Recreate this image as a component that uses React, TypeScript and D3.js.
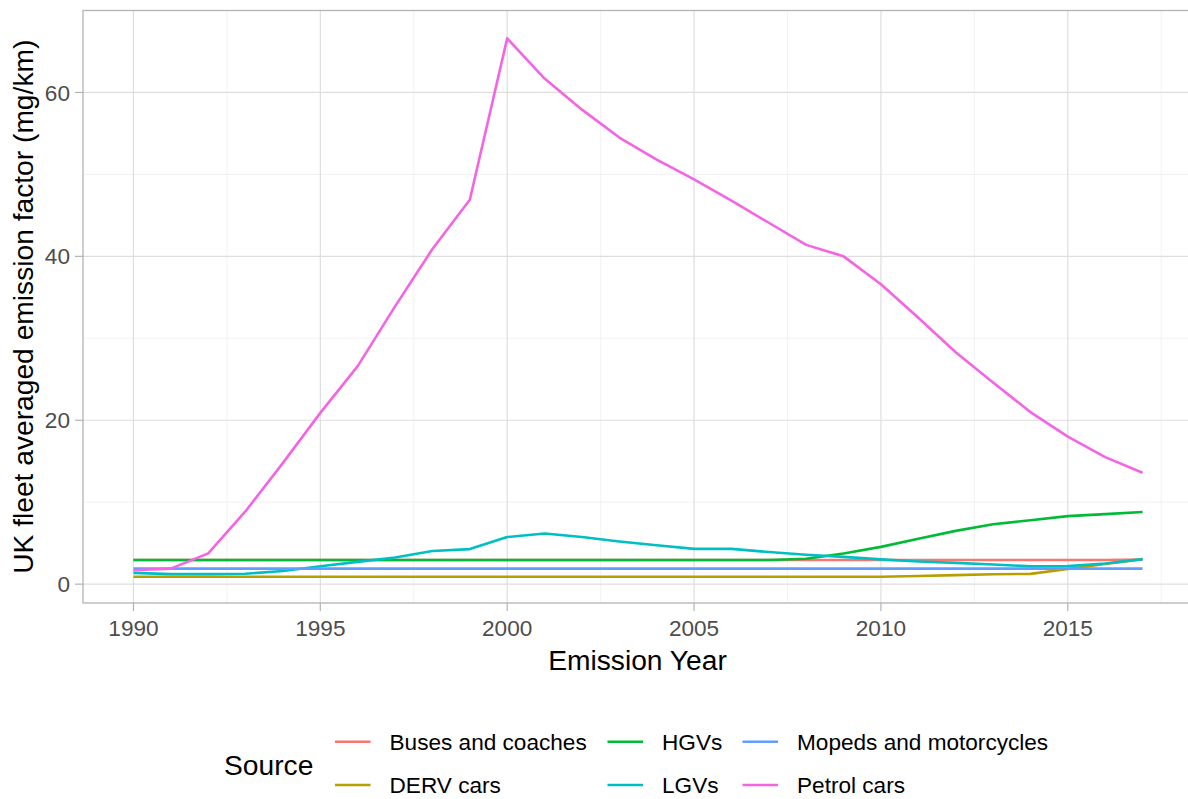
import { useRef, useEffect } from "react";
import * as d3 from "d3";

const years = [
  1990, 1991, 1992, 1993, 1994, 1995, 1996, 1997, 1998, 1999, 2000, 2001, 2002, 2003,
  2004, 2005, 2006, 2007, 2008, 2009, 2010, 2011, 2012, 2013, 2014, 2015, 2016, 2017,
];

const sources = ["Buses and coaches", "DERV cars", "HGVs", "LGVs", "Mopeds and motorcycles", "Petrol cars"];
const colors = ["#F8766D", "#B79F00", "#00BA38", "#00BFC4", "#619CFF", "#F564E3"];

const buses = [
  2.95, 2.95, 2.95, 2.95, 2.95, 2.95, 2.95, 2.95, 2.95, 2.95, 2.95, 2.95, 2.95, 2.95,
  2.95, 2.95, 2.95, 2.95, 2.95, 2.95, 2.95, 2.95, 2.95, 2.95, 2.95, 2.95, 2.95, 3.0,
];
const derv = [
  0.9, 0.9, 0.9, 0.9, 0.9, 0.9, 0.9, 0.9, 0.9, 0.9, 0.9, 0.9, 0.9, 0.9,
  0.9, 0.9, 0.9, 0.9, 0.9, 0.9, 0.9, 1.0, 1.1, 1.2, 1.25, 1.85, 2.45, 3.05,
];
const hgvs = [
  2.95, 2.95, 2.95, 2.95, 2.95, 2.95, 2.95, 2.95, 2.95, 2.95, 2.95, 2.95, 2.95, 2.95,
  2.95, 2.95, 2.95, 2.95, 3.1, 3.75, 4.55, 5.55, 6.5, 7.3, 7.8, 8.3, 8.55, 8.8,
];
const lgvs = [
  1.38, 1.22, 1.22, 1.27, 1.6, 2.18, 2.72, 3.25, 4.05, 4.28, 5.75, 6.18, 5.75, 5.2,
  4.75, 4.3, 4.3, 3.92, 3.58, 3.33, 3.02, 2.76, 2.6, 2.4, 2.17, 2.2, 2.52, 3.05,
];
const mopeds = [
  1.9, 1.9, 1.9, 1.9, 1.9, 1.9, 1.9, 1.9, 1.9, 1.9, 1.9, 1.9, 1.9, 1.9,
  1.9, 1.9, 1.9, 1.9, 1.9, 1.9, 1.9, 1.9, 1.9, 1.9, 1.9, 1.9, 1.9, 1.9,
];
const petrol = [
  1.7, 1.9, 3.75, 8.9, 14.8, 20.9, 26.6, 33.9, 40.9, 46.9, 66.6, 61.7, 57.9, 54.5,
  51.8, 49.4, 46.8, 44.1, 41.4, 40.0, 36.6, 32.5, 28.3, 24.6, 21.0, 18.0, 15.5, 13.6,
];

const xTicks = [1990, 1995, 2000, 2005, 2010, 2015];
const xMinor = [1992.5, 1997.5, 2002.5, 2007.5, 2012.5, 2017.5];
const yTicks = [0, 20, 40, 60];
const yMinor = [10, 30, 50];

const FONT = "'Liberation Sans', Arial, sans-serif";

export default function App() {
  const svgRef = useRef<SVGSVGElement>(null);

  useEffect(() => {
    if (!svgRef.current) return;
    const svg = d3.select(svgRef.current);
    svg.selectAll("*").remove();

    const W = 1188;
    const H = 799;
    const panel = { left: 83, top: 10.5, right: 1193, bottom: 603 };

    const x = d3.scaleLinear().domain([1988.65, 2018.35]).range([panel.left, panel.right]);
    const y = d3.scaleLinear().domain([-2.3, 70]).range([panel.bottom, panel.top]);

    svg.append("rect").attr("width", W).attr("height", H).attr("fill", "#ffffff");

    const clip = svg.append("defs").append("clipPath").attr("id", "panel-clip");
    clip
      .append("rect")
      .attr("x", panel.left)
      .attr("y", panel.top)
      .attr("width", panel.right - panel.left)
      .attr("height", panel.bottom - panel.top);

    const grid = svg.append("g");
    // minor grid
    yMinor.forEach((v) =>
      grid.append("line")
        .attr("x1", panel.left).attr("x2", panel.right)
        .attr("y1", y(v)).attr("y2", y(v))
        .attr("stroke", "#EDEDED").attr("stroke-width", 0.7),
    );
    xMinor.forEach((v) =>
      grid.append("line")
        .attr("x1", x(v)).attr("x2", x(v))
        .attr("y1", panel.top).attr("y2", panel.bottom)
        .attr("stroke", "#EDEDED").attr("stroke-width", 0.7),
    );
    // major grid
    yTicks.forEach((v) =>
      grid.append("line")
        .attr("x1", panel.left).attr("x2", panel.right)
        .attr("y1", y(v)).attr("y2", y(v))
        .attr("stroke", "#DEDEDE").attr("stroke-width", 1.2),
    );
    xTicks.forEach((v) =>
      grid.append("line")
        .attr("x1", x(v)).attr("x2", x(v))
        .attr("y1", panel.top).attr("y2", panel.bottom)
        .attr("stroke", "#DEDEDE").attr("stroke-width", 1.2),
    );

    // series lines
    const series = [buses, derv, hgvs, lgvs, mopeds, petrol];
    const line = d3
      .line<number>()
      .x((_, i) => x(years[i]))
      .y((d) => y(d));

    const lines = svg.append("g").attr("clip-path", "url(#panel-clip)");
    series.forEach((vals, i) => {
      lines.append("path")
        .datum(vals)
        .attr("d", line)
        .attr("fill", "none")
        .attr("stroke", colors[i])
        .attr("stroke-width", 2.6)
        .attr("stroke-linejoin", "round");
    });

    // panel border
    svg.append("rect")
      .attr("x", panel.left).attr("y", panel.top)
      .attr("width", panel.right - panel.left)
      .attr("height", panel.bottom - panel.top)
      .attr("fill", "none")
      .attr("stroke", "#B3B3B3")
      .attr("stroke-width", 1.3);

    // x axis ticks + labels
    const xa = svg.append("g");
    xTicks.forEach((v) => {
      xa.append("line")
        .attr("x1", x(v)).attr("x2", x(v))
        .attr("y1", panel.bottom).attr("y2", panel.bottom + 8)
        .attr("stroke", "#B3B3B3").attr("stroke-width", 1.2);
      xa.append("text")
        .attr("x", x(v)).attr("y", 636)
        .attr("text-anchor", "middle")
        .attr("font-family", FONT).attr("font-size", 22.6)
        .attr("fill", "#4D4D4D")
        .text(v);
    });

    // y axis ticks + labels
    const ya = svg.append("g");
    yTicks.forEach((v) => {
      ya.append("line")
        .attr("x1", panel.left - 8).attr("x2", panel.left)
        .attr("y1", y(v)).attr("y2", y(v))
        .attr("stroke", "#B3B3B3").attr("stroke-width", 1.2);
      ya.append("text")
        .attr("x", 70).attr("y", y(v))
        .attr("dy", "0.36em")
        .attr("text-anchor", "end")
        .attr("font-family", FONT).attr("font-size", 22.6)
        .attr("fill", "#4D4D4D")
        .text(v);
    });

    // axis titles
    svg.append("text")
      .attr("x", (panel.left + 1188 + 5) / 2 - 0.5).attr("y", 670)
      .attr("text-anchor", "middle")
      .attr("font-family", FONT).attr("font-size", 28.2)
      .attr("fill", "#000")
      .text("Emission Year");

    svg.append("text")
      .attr("transform", `translate(32.5,${(panel.top + panel.bottom) / 2}) rotate(-90)`)
      .attr("text-anchor", "middle")
      .attr("font-family", FONT).attr("font-size", 28.2)
      .attr("fill", "#000")
      .text("UK fleet averaged emission factor (mg/km)");

    // legend
    const lg = svg.append("g");
    lg.append("text")
      .attr("x", 224).attr("y", 765).attr("dy", "0.36em")
      .attr("font-family", FONT).attr("font-size", 28.2)
      .attr("fill", "#000")
      .text("Source");

    const colX = [335, 607.5, 742.5];
    const rowY = [741.7, 785];
    sources.forEach((s, i) => {
      const col = Math.floor(i / 2);
      const row = i % 2;
      const kx = colX[col];
      const ky = rowY[row];
      lg.append("line")
        .attr("x1", kx).attr("x2", kx + 35.5)
        .attr("y1", ky).attr("y2", ky)
        .attr("stroke", colors[i]).attr("stroke-width", 2.6);
      lg.append("text")
        .attr("x", kx + 54.5).attr("y", ky).attr("dy", "0.36em")
        .attr("font-family", FONT).attr("font-size", 22.6)
        .attr("fill", "#000")
        .text(s);
    });
  }, []);

  return (
    <div style={{ position: "absolute", left: 0, top: 0, width: 1188, height: 799, overflow: "hidden" }}>
      <svg ref={svgRef} width={1188} height={799} style={{ display: "block" }} />
    </div>
  );
}
